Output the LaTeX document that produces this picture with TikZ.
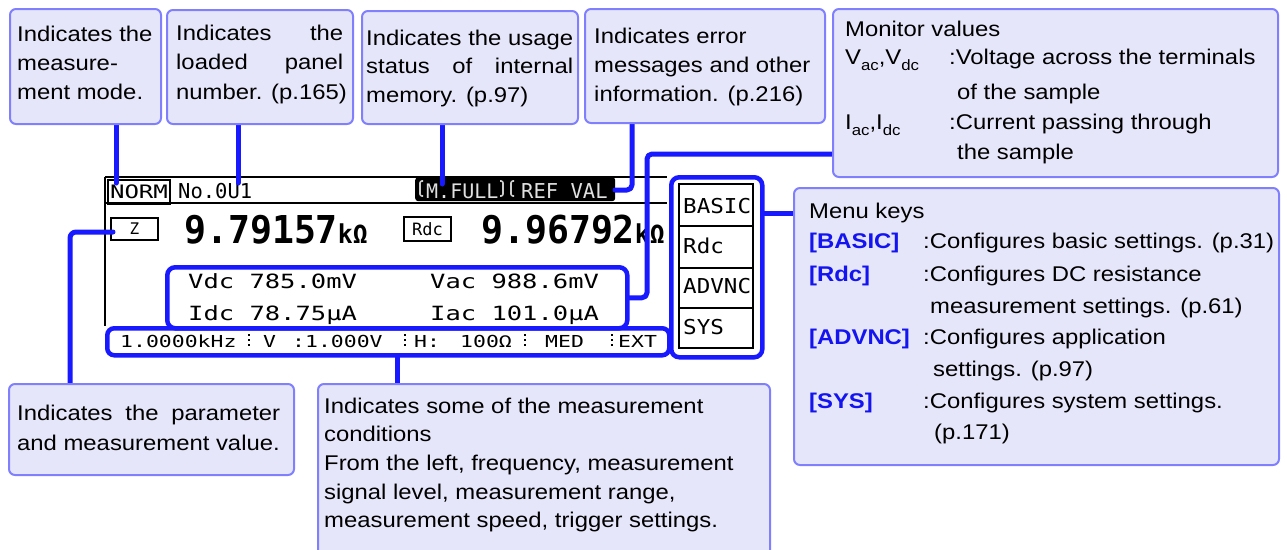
\documentclass[tikz,border=0pt]{standalone}
\usepackage{fontspec}
\setmainfont{Liberation Sans}[FakeStretch=1.12]
\newfontfamily\lcd{DejaVu Sans Mono}[FakeStretch=1.3]
\newfontfamily\lcdk{DejaVu Sans Mono}
\newfontfamily\lcdm{DejaVu Sans Mono}[FakeStretch=1.1]
\newfontfamily\lcdv{DejaVu Sans Mono}[FakeStretch=0.95]
\definecolor{boxfill}{RGB}{230,230,250}
\definecolor{boxline}{RGB}{128,128,255}
\definecolor{connblue}{RGB}{25,25,255}
\definecolor{keyblue}{RGB}{20,20,240}
\newcommand\lsub[1]{\raisebox{-6pt}{\fontsize{15}{15}\selectfont #1}}
\newcommand\keytxt[1]{\textbf{\color{keyblue}#1}}
\pgfdeclarelayer{screen}
\pgfdeclarelayer{wires}
\pgfsetlayers{screen,wires,main}
\tikzset{
  note/.style={draw=boxline, fill=boxfill, line width=2pt, rounded corners=6pt, anchor=north west, inner sep=0pt},
  txt/.style={anchor=base west, inner sep=0pt, font=\fontsize{21.3}{29}\selectfont},
  link/.style={draw=connblue, line width=5pt, line cap=round, line join=round},
  hlframe/.style={draw=connblue, line width=4.5pt, rounded corners=8pt, anchor=north west, inner sep=0pt},
  scr/.style={draw=black, line width=2pt},
  lcdtxt/.style={anchor=base west, inner sep=0pt, font=\lcd\fontsize{19.6}{20}\selectfont},
  bartxt/.style={anchor=base west, inner sep=0pt, font=\lcd\fontsize{16.5}{17}\selectfont},
  keytext/.style={anchor=base west, inner sep=0pt, font=\lcdm\fontsize{20.5}{21}\selectfont},
  bigval/.style={anchor=base west, inner sep=0pt, font=\lcdv\bfseries\fontsize{38.4}{40}\selectfont},
  softkey/.style={draw=black, line width=2pt, anchor=north west, inner sep=0pt, minimum width=74pt},
  tagbox/.style={draw=black, line width=2pt, anchor=north west, inner sep=0pt},
  bracket/.style={draw=white!80!black, line width=1.6pt, rounded corners=2pt},
}
\begin{document}
\begin{tikzpicture}[x=1pt,y=-1pt]
\useasboundingbox (0,0) rectangle (1287,549);

% ---------------- screen ----------------
\begin{pgfonlayer}{screen}
\coordinate (sTL) at (105,177);
\coordinate (sTR) at (667,177);
\coordinate (sML) at (105,203);
\coordinate (sMR) at (667,203);
\coordinate (sBL) at (105,326);
\draw[scr] (sTL) -- (sTR);
\draw[scr] (sML) -- (sMR);
\draw[scr] (sTL) -- (sBL);
\node[tagbox, minimum width=62pt, minimum height=24pt, font=\lcd\fontsize{18.5}{19}\selectfont] (norm) at (107,179) {NORM};
\node[anchor=base west, inner sep=0pt, font=\lcdk\fontsize{20.5}{21}\selectfont] (panel) at (178,198) {No.0U1};
\node[fill=black, rounded corners=3pt, anchor=north west, inner sep=0pt, minimum width=200pt, minimum height=24pt] (band) at (415,177) {};
\node[anchor=base west, inner sep=0pt, text=white!88!black, font=\lcdk\fontsize{20}{21}\selectfont] (mfull) at (426,198) {M.FULL};
\node[anchor=base west, inner sep=0pt, text=white!88!black, font=\lcdk\fontsize{20.5}{21}\selectfont] (refval) at (521,198) {REF VAL};
\coordinate (br1a) at (423,181);
\coordinate (br1b) at (420,196);
\coordinate (br2a) at (500,181);
\coordinate (br2b) at (503,196);
\coordinate (br3a) at (514,181);
\coordinate (br3b) at (511,196);
\draw[bracket] (br1a) -| (br1b) -- ++(3,0);
\draw[bracket] (br2a) -| (br2b) -- ++(-3,0);
\draw[bracket] (br3a) -| (br3b) -- ++(3,0);
\node[tagbox, minimum width=47pt, minimum height=22pt, font=\lcdk\fontsize{16}{17}\selectfont] (zb) at (110,217) {Z};
\node[tagbox, minimum width=47pt, minimum height=24pt, font=\lcdk\fontsize{17}{18}\selectfont] (rdcb) at (403,216) {Rdc};
\node[bigval] (v1) at (184,243) {9.79157{\fontsize{26}{26}\selectfont k\char"03A9}};
\node[bigval] (v2) at (481,243) {9.96792{\fontsize{26}{26}\selectfont k\char"03A9}};
\node[lcdtxt] (vdc) at (188,288) {Vdc 785.0mV};
\node[lcdtxt] (idc) at (188,320) {Idc 78.75\char"03BC A};
\node[lcdtxt] (vac) at (430,288) {Vac 988.6mV};
\node[lcdtxt] (iac) at (430,320) {Iac 101.0\char"03BC A};
\node[bartxt] (c1) at (120,347) {1.0000kHz};
\node[bartxt] (c2) at (263,347) {V};
\node[bartxt] (c3) at (292,347) {:1.000V};
\node[bartxt] (c4) at (414,347) {H:};
\node[bartxt] (c5) at (460,347) {100\char"03A9};
\node[bartxt] (c6) at (545,347) {MED};
\node[bartxt] (c7) at (618,347) {EXT};
\foreach \sx in {249,405,525,612}
  \foreach \sy in {335,340,345}
    \fill (\sx-1.2,\sy-1.2) rectangle (\sx+1.2,\sy+1.2);
\node[softkey, minimum height=42pt] (k1) at (678,183) {};
\node[softkey, minimum height=42pt] (k2) at (678,225) {};
\node[softkey, minimum height=40pt] (k3) at (678,267) {};
\node[softkey, minimum height=40pt] (k4) at (678,307) {};
\node[keytext] (k1t) at (683,213) {BASIC};
\node[keytext] (k2t) at (683,253) {Rdc};
\node[keytext] (k3t) at (683,293) {ADVNC};
\node[keytext] (k4t) at (683,334) {SYS};
\end{pgfonlayer}

% ---------------- annotation boxes ----------------
\node[note, minimum width=151pt, minimum height=115pt] (b1) at (9,8) {};
\node[note, minimum width=186pt, minimum height=114pt] (b2) at (166,9) {};
\node[note, minimum width=216pt, minimum height=113pt] (b3) at (361,10) {};
\node[note, minimum width=240pt, minimum height=114pt] (b4) at (584,8) {};
\node[note, minimum width=445pt, minimum height=168pt] (b5) at (832,8) {};
\node[note, minimum width=485pt, minimum height=277pt] (b6) at (793,187) {};
\node[note, minimum width=285pt, minimum height=91pt] (b7) at (8,383) {};
\node[note, minimum width=452pt, minimum height=180pt] (b8) at (317,383) {};

\node[txt] (t1) at (17,41) {\parbox[t]{145pt}{\raggedright\lineskiplimit=-100pt\setlength\baselineskip{29pt}%
Indicates the\\measure-\\ment mode.}};
\node[txt] (t2) at (176,40) {\parbox[t]{175pt}{\raggedright\lineskiplimit=-100pt\setlength\baselineskip{29.5pt}%
\makebox[167pt][s]{Indicates the}\\\makebox[167pt][s]{loaded panel}\\number. (p.165)}};
\node[txt] (t3) at (366,45) {\parbox[t]{215pt}{\raggedright\lineskiplimit=-100pt\setlength\baselineskip{28.5pt}%
Indicates the usage\\\makebox[207pt][s]{status of internal}\\memory. (p.97)}};
\node[txt] (t4) at (594,43) {\parbox[t]{235pt}{\raggedright\lineskiplimit=-100pt\setlength\baselineskip{29pt}%
Indicates error\\messages and other\\information. (p.216)}};
\node[txt] (t5) at (845,36) {\parbox[t]{430pt}{\raggedright\lineskiplimit=-100pt\setlength\baselineskip{30pt}%
Monitor values\\[-2pt]
\makebox[104pt][l]{V\lsub{ac},V\lsub{dc}}:Voltage across the terminals\\[5pt]
\hspace*{112pt}of the sample\\
\makebox[104pt][l]{I\lsub{ac},I\lsub{dc}}:Current passing through\\
\hspace*{112pt}the sample}};
\node[txt] (t6) at (809,218) {\parbox[t]{470pt}{\raggedright\lineskiplimit=-100pt\setlength\baselineskip{31.7pt}%
Menu keys\\[-1.5pt]
\makebox[114pt][l]{\keytxt{[BASIC]}}:Configures basic settings. (p.31)\\[1.5pt]
\makebox[114pt][l]{\keytxt{[Rdc]}}:Configures DC resistance\\
\hspace*{121pt}measurement settings. (p.61)\\
\makebox[114pt][l]{\keytxt{[ADVNC]}}:Configures application\\
\hspace*{124pt}settings. (p.97)\\
\makebox[114pt][l]{\keytxt{[SYS]}}:Configures system settings.\\
\hspace*{125pt}(p.171)}};
\node[txt] (t7) at (17,420) {\parbox[t]{270pt}{\raggedright\lineskiplimit=-100pt\setlength\baselineskip{30pt}%
\makebox[263pt][s]{Indicates the parameter}\\and measurement value.}};
\node[txt] (t8) at (324,413) {\parbox[t]{440pt}{\raggedright\lineskiplimit=-100pt\setlength\baselineskip{28.7pt}%
Indicates some of the measurement\\conditions\\From the left, frequency, measurement\\signal level, measurement range,\\measurement speed, trigger settings.}};

% ---------------- highlight frames and connectors ----------------
\begin{pgfonlayer}{wires}
\node[hlframe, minimum width=460pt, minimum height=61pt] (mon) at (165,265) {};
\node[hlframe, minimum width=562pt, minimum height=27pt, rounded corners=7pt] (cond) at (105,326) {};
\node[hlframe, minimum width=91pt, minimum height=180pt] (menu) at (669,175) {};

\coordinate (m1) at (116,183);
\coordinate (m2) at (238,183);
\coordinate (m3) at (442,184);
\coordinate (m4x) at (632,0);
\coordinate (m4) at (615,190);
\coordinate (c5p) at (647,154);
\coordinate (c6y) at (0,213);
\coordinate (zin) at (113,232);
\coordinate (p7x) at (70,0);
\coordinate (c8x) at (397,0);

\draw[link] (b1.south -| m1) -- (m1);
\draw[link] (b2.south -| m2) -- (m2);
\draw[link] (b3.south -| m3) -- (m3);
\draw[link, rounded corners=5pt] (b4.south -| m4x) |- (m4);
\draw[link, rounded corners=5pt] (b5.west |- c5p) -- (c5p) |- (mon.east);
\draw[link] (menu.east |- c6y) -- (b6.west |- c6y);
\draw[link, rounded corners=6pt] (zin) -| (b7.north -| p7x);
\draw[link] (cond.south -| c8x) -- (b8.north -| c8x);
\end{pgfonlayer}
\end{tikzpicture}
\end{document}
